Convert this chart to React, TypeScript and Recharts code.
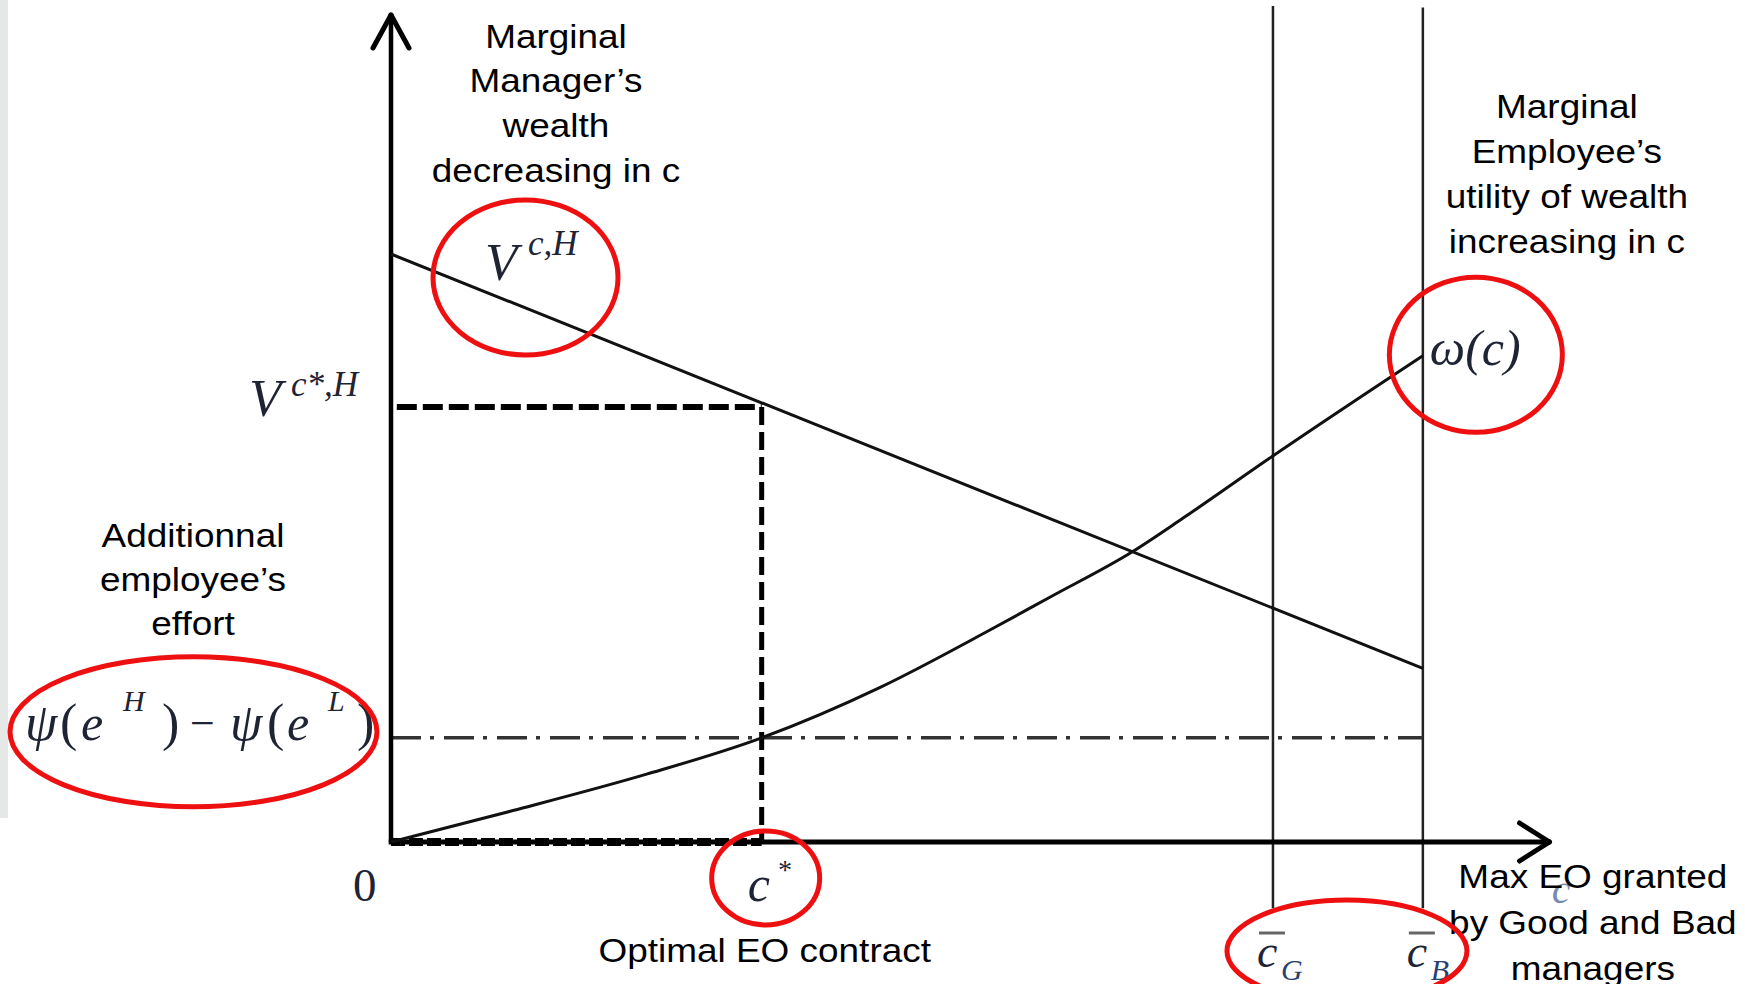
import React from 'react';
import { ComposedChart, Line, XAxis, YAxis, ReferenceLine, ReferenceDot, ReferenceArea } from 'recharts';

// ---------------- data ----------------
const cStar = 31.9;      // optimal EO contract c*
const cG = 75.9;         // max EO granted by Good managers
const cB = 88.8;         // max EO granted by Bad managers
const vStar = 52.6;      // V^{c*,H}
const psiLevel = 12.6;   // psi(e^H) - psi(e^L)
const cAxisEnd = 99.7;   // end of the c axis (arrow tip)
const yAxisEnd = 100;    // end of the vertical axis (arrow tip)
const refTop = 101.1;    // top of the vertical reference lines
const refBottom = -8;    // bottom of the vertical reference lines

const vCs = [0, 88.8];
const vValues = [71.1, 21.0];

const omegaCs = [0, 10.5, 22, 31.9, 42.1, 51.5, 56.7, 63.8, 68.2, 75.6, 88.8];
const omegaValues = [0, 3.8, 8.2, 12.6, 18.7, 25.6, 29.6, 35.1, 39.2, 46.4, 58.8];

const managerLabel = ['Marginal', 'Manager\u2019s', 'wealth', 'decreasing in c'];
const employeeLabel = ['Marginal', 'Employee\u2019s', 'utility of wealth', 'increasing in c'];
const effortLabel = ['Additionnal', 'employee\u2019s', 'effort'];
const maxLabel = ['Max EO granted', 'by Good and Bad', 'managers'];
const optimalLabel = ['Optimal EO contract'];

// ---------------- layout ----------------
const W = 1745;
const H = 984;
const ORIGIN_X = 391;
const ORIGIN_Y = 842;
const PX_X = 11.62;
const PX_Y = 8.27;
const X_MIN = -ORIGIN_X / PX_X;
const X_MAX = (W - ORIGIN_X) / PX_X;
const Y_MAX = ORIGIN_Y / PX_Y;
const Y_MIN = -(H - ORIGIN_Y) / PX_Y;

const SANS = "'Liberation Sans', Arial, Helvetica, sans-serif";
const SERIF = "'Liberation Serif', 'Times New Roman', Times, serif";
const MATH = '#1f2434';
const RED = '#ee1010';

const vData = vCs.map((c, i) => ({ c, v: vValues[i] }));
const omegaData = omegaCs.map((c, i) => ({ c, w: omegaValues[i] }));

type P = { cx?: number; cy?: number };

const sansBlock = (lines: string[], dx: number, baselines: number[]) => (props: P) => {
  const cx = props.cx ?? 0;
  const cy = props.cy ?? 0;
  return (
    <g>
      {lines.map((t, i) => (
        <text
          key={i}
          x={0}
          y={0}
          transform={`translate(${cx + dx},${cy + baselines[i]}) scale(1.12,1)`}
          textAnchor="middle"
          fontFamily={SANS}
          fontSize={33}
          fill="#000"
        >
          {t}
        </text>
      ))}
    </g>
  );
};

type Piece = { t: string; dx: number; dy: number; size: number; italic?: boolean; color?: string; opacity?: number };

const mathPieces = (pieces: Piece[]) => (props: P) => {
  const cx = props.cx ?? 0;
  const cy = props.cy ?? 0;
  return (
    <g>
      {pieces.map((p, i) => (
        <text
          key={i}
          x={cx + p.dx}
          y={cy + p.dy}
          fontFamily={SERIF}
          fontStyle={p.italic === false ? 'normal' : 'italic'}
          fontSize={p.size}
          fill={p.color ?? MATH}
          fillOpacity={p.opacity ?? 1}
        >
          {p.t}
        </text>
      ))}
    </g>
  );
};

const ring = (dx: number, dy: number, rx: number, ry: number) => (props: P) => {
  const cx = props.cx ?? 0;
  const cy = props.cy ?? 0;
  return <ellipse cx={cx + dx} cy={cy + dy} rx={rx} ry={ry} fill="none" stroke={RED} strokeWidth={5} />;
};

const barC = (sub: string) => (props: P) => {
  const cx = props.cx ?? 0;
  const cy = props.cy ?? 0;
  return (
    <g>
      <line x1={cx - 14} x2={cx + 12} y1={cy + 91} y2={cy + 91} stroke="#666" strokeWidth={3} />
      <text x={cx - 16} y={cy + 125} fontFamily={SERIF} fontStyle="italic" fontSize={46} fill={MATH}>c</text>
      <text x={cx + 8} y={cy + 138} fontFamily={SERIF} fontStyle="italic" fontSize={30} fill="#2a3f70">{sub}</text>
    </g>
  );
};

const wingX = 18 / PX_X;
const wingY = 33 / PX_Y;
const wingX2 = 30 / PX_X;
const wingY2 = 19 / PX_Y;

export default function App() {
  return (
    <div style={{ position: 'absolute', left: 0, top: 0, width: W, height: H, background: '#fff' }}>
      <ComposedChart width={W} height={H} margin={{ top: 0, right: 0, bottom: 0, left: 0 }}>
        <XAxis type="number" dataKey="c" domain={[X_MIN, X_MAX]} allowDataOverflow hide />
        <YAxis type="number" domain={[Y_MIN, Y_MAX]} allowDataOverflow hide />

        <ReferenceArea x1={X_MIN} x2={X_MIN + 8 / PX_X} y1={24 / PX_Y} y2={Y_MAX} fill="#e6e8e7" fillOpacity={1} stroke="none" ifOverflow="visible" />

        {/* vertical reference lines c_G, c_B */}
        <ReferenceLine segment={[{ x: cG, y: refBottom }, { x: cG, y: refTop }]} stroke="#222" strokeWidth={2.5} ifOverflow="visible" />
        <ReferenceLine segment={[{ x: cB, y: refBottom }, { x: cB, y: refTop - 0.2 }]} stroke="#222" strokeWidth={2.5} ifOverflow="visible" />

        {/* dash-dot effort level */}
        <ReferenceLine segment={[{ x: 0, y: psiLevel }, { x: cB, y: psiLevel }]} stroke="#333" strokeWidth={3.5} strokeDasharray="30 9 4 10" ifOverflow="visible" />

        {/* dashed optimum guides */}
        <ReferenceLine segment={[{ x: 0.5, y: vStar }, { x: cStar, y: vStar }]} stroke="#000" strokeWidth={6} strokeDasharray="20 6" ifOverflow="visible" />
        <ReferenceLine segment={[{ x: cStar, y: vStar }, { x: cStar, y: 0 }]} stroke="#000" strokeWidth={5} strokeDasharray="18 7" ifOverflow="visible" />

        {/* axes with arrows */}
        <ReferenceLine segment={[{ x: 0, y: 0 }, { x: 0, y: yAxisEnd }]} stroke="#000" strokeWidth={4.5} ifOverflow="visible" />
        <ReferenceLine segment={[{ x: -wingX, y: yAxisEnd - wingY }, { x: 0, y: yAxisEnd }]} stroke="#000" strokeWidth={5} strokeLinecap="round" ifOverflow="visible" />
        <ReferenceLine segment={[{ x: wingX, y: yAxisEnd - wingY }, { x: 0, y: yAxisEnd }]} stroke="#000" strokeWidth={5} strokeLinecap="round" ifOverflow="visible" />
        <ReferenceLine segment={[{ x: -0.2, y: 0 }, { x: cAxisEnd, y: 0 }]} stroke="#000" strokeWidth={5} ifOverflow="visible" />
        <ReferenceLine segment={[{ x: cAxisEnd - wingX2, y: wingY2 }, { x: cAxisEnd, y: 0 }]} stroke="#000" strokeWidth={5} strokeLinecap="round" ifOverflow="visible" />
        <ReferenceLine segment={[{ x: cAxisEnd - wingX2, y: -wingY2 }, { x: cAxisEnd, y: 0 }]} stroke="#000" strokeWidth={5} strokeLinecap="round" ifOverflow="visible" />
        <ReferenceLine segment={[{ x: 0, y: 0 }, { x: cStar, y: 0 }]} stroke="#000" strokeWidth={8} strokeDasharray="14 4" ifOverflow="visible" />

        {/* curves */}
        <Line data={vData} dataKey="v" type="linear" stroke="#111" strokeWidth={3} dot={false} activeDot={false} isAnimationActive={false} />
        <Line data={omegaData} dataKey="w" type="monotone" stroke="#111" strokeWidth={3} dot={false} activeDot={false} isAnimationActive={false} />

        {/* stray axis label behind the text */}
        <ReferenceDot x={cB} y={0} r={0} ifOverflow="visible" shape={mathPieces([{ t: 'c', dx: 129, dy: 61, size: 42, color: '#4a6496', opacity: 0.75 }])} />

        {/* text blocks */}
        <ReferenceDot x={0} y={vValues[0]} r={0} ifOverflow="visible" shape={sansBlock(managerLabel, 165, [-206, -162, -117, -72])} />
        <ReferenceDot x={cB} y={omegaValues[omegaValues.length - 1]} r={0} ifOverflow="visible" shape={sansBlock(employeeLabel, 144, [-238, -193, -148, -103])} />
        <ReferenceDot x={0} y={psiLevel} r={0} ifOverflow="visible" shape={sansBlock(effortLabel, -198, [-191, -147, -103])} />
        <ReferenceDot x={cStar} y={0} r={0} ifOverflow="visible" shape={sansBlock(optimalLabel, 3, [120])} />
        <ReferenceDot x={cB} y={0} r={0} ifOverflow="visible" shape={sansBlock(maxLabel, 170, [46, 92, 138])} />

        {/* math labels */}
        <ReferenceDot x={0} y={vValues[0]} r={0} ifOverflow="visible" shape={mathPieces([
          { t: 'V', dx: 94, dy: 26, size: 53 },
          { t: 'c,H', dx: 137, dy: 1, size: 35 },
        ])} />
        <ReferenceDot x={0} y={vStar} r={0} ifOverflow="visible" shape={mathPieces([
          { t: 'V', dx: -142, dy: 9, size: 53 },
          { t: 'c*,H', dx: -100, dy: -11, size: 35 },
        ])} />
        <ReferenceDot x={0} y={psiLevel} r={0} ifOverflow="visible" shape={mathPieces([
          { t: '\u03C8', dx: -366, dy: 2, size: 52 },
          { t: '(', dx: -331, dy: 2, size: 52, italic: false },
          { t: 'e', dx: -310, dy: 2, size: 50 },
          { t: 'H', dx: -268, dy: -27, size: 30 },
          { t: ')', dx: -229, dy: 2, size: 52, italic: false },
          { t: '\u2212', dx: -201, dy: 0, size: 44, italic: false },
          { t: '\u03C8', dx: -161, dy: 2, size: 52 },
          { t: '(', dx: -124, dy: 2, size: 52, italic: false },
          { t: 'e', dx: -104, dy: 2, size: 50 },
          { t: 'L', dx: -63, dy: -27, size: 30 },
          { t: ')', dx: -34, dy: 2, size: 52, italic: false },
        ])} />
        <ReferenceDot x={cB} y={omegaValues[omegaValues.length - 1]} r={0} ifOverflow="visible" shape={mathPieces([
          { t: '\u03C9(c)', dx: 7, dy: 9, size: 50 },
        ])} />
        <ReferenceDot x={0} y={0} r={0} ifOverflow="visible" shape={mathPieces([
          { t: '0', dx: -38, dy: 59, size: 47, italic: false },
        ])} />
        <ReferenceDot x={cStar} y={0} r={0} ifOverflow="visible" shape={mathPieces([
          { t: 'c', dx: -14, dy: 59, size: 50 },
          { t: '*', dx: 15, dy: 37, size: 28 },
        ])} />
        <ReferenceDot x={cG} y={0} r={0} ifOverflow="visible" shape={barC('G')} />
        <ReferenceDot x={cB} y={0} r={0} ifOverflow="visible" shape={barC('B')} />

        {/* red highlight rings */}
        <ReferenceDot x={0} y={vValues[0]} r={0} ifOverflow="visible" shape={ring(134.5, 23.5, 92.5, 77.5)} />
        <ReferenceDot x={0} y={psiLevel} r={0} ifOverflow="visible" shape={ring(-197.5, -6, 183.5, 75)} />
        <ReferenceDot x={cStar} y={0} r={0} ifOverflow="visible" shape={ring(4, 36, 54, 47)} />
        <ReferenceDot x={cB} y={omegaValues[omegaValues.length - 1]} r={0} ifOverflow="visible" shape={ring(53, -1, 86.5, 77.5)} />
        <ReferenceDot x={cG} y={0} r={0} ifOverflow="visible" shape={ring(74, 109, 120, 51)} />
      </ComposedChart>
    </div>
  );
}
